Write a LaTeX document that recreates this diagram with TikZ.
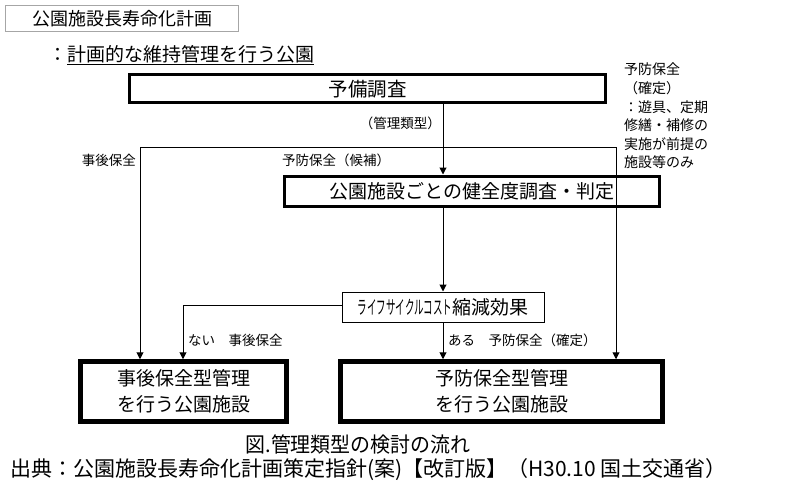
\documentclass[tikz,border=0pt]{standalone}
\usepackage{fontspec}
\setmainfont{Noto Sans CJK JP}
\newfontfamily\jpc[FakeStretch=0.95]{Noto Sans CJK JP}
\newfontfamily\jpk[FakeStretch=0.5]{Noto Sans CJK JP}
\usetikzlibrary{arrows.meta}
\begin{document}
\begin{tikzpicture}[x=1pt,y=-1pt,
  thickbox/.style={draw, line width=3pt, inner sep=0pt},
  bigbox/.style={draw, line width=4.5pt, inner sep=0pt},
  thinbox/.style={draw, line width=1pt, inner sep=0pt},
  lbl/.style={font=\fontsize{13.5}{15}\selectfont, inner sep=0pt},
  conn/.style={line width=1pt, -{Triangle[length=7pt,width=7pt]}},
  line/.style={line width=1pt}]
\useasboundingbox (0,0) rectangle (792,500);
% title
\node[draw=gray!70, line width=1pt, minimum width=233pt, minimum height=26pt, anchor=north west, font=\fontsize{18}{20}\selectfont] (title) at (5,5) {公園施設長寿命化計画};
\node[anchor=west, font=\fontsize{19}{21}\selectfont, inner sep=0pt] (sub) at (48,55) {：\underline{計画的な維持管理を行う公園}};
% boxes
\node[thickbox, minimum width=476pt, minimum height=28pt] (yobi) at (367.5,89) {\fontsize{19.5}{21}\selectfont 予備調査};
\node[thickbox, minimum width=375pt, minimum height=30pt] (kenzen) at (472,191) {\fontsize{19}{21}\selectfont 公園施設ごとの健全度調査・判定};
\node[thinbox, minimum width=202pt, minimum height=30pt] (lcc) at (443,307) {\fontsize{19}{21}\selectfont{\jpk ライフサイクルコスト}縮減効果};
\node[bigbox, minimum width=206pt, minimum height=60pt, align=center, font=\fontsize{19}{25.5}\selectfont] (jigo) at (183.5,391.5) {事後保全型管理\\を行う公園施設};
\node[bigbox, minimum width=322pt, minimum height=60pt, align=center, font=\fontsize{19}{25.5}\selectfont] (yobo) at (501.5,391.5) {予防保全型管理\\を行う公園施設};
% coordinates
\coordinate (tl) at (140,147);
\coordinate (tr) at (616,147);
\coordinate (lk) at (183,305);
% connectors
\draw[conn] (yobi.south -| 443,0) -- (kenzen.north -| 443,0);
\draw[line] (tl) -- (tr);
\draw[conn] (tl) -- (tl |- jigo.north);
\draw[conn] (tr) -- (tr |- yobo.north);
\draw[conn] (kenzen.south -| 443,0) -- (lcc.north);
\draw[conn] (lcc.west |- lk) -- (lk) -- (lk |- jigo.north);
\draw[conn] (lcc.south) -- (lcc.south |- yobo.north);
% labels
\node[lbl, anchor=east] (l1) at (441,123) {（管理類型）};
\node[lbl, anchor=east] (l2) at (136,160) {事後保全};
\node[lbl, anchor=west] (l3) at (282,160) {予防保全（候補）};
\node[lbl, anchor=west] (l4) at (188,340) {ない　事後保全};
\node[lbl, anchor=west] (l5) at (448,340) {ある　予防保全（確定）};
\node[lbl, anchor=north west, align=left, font=\fontsize{14}{18.6}\selectfont] (note) at (624,63) {予防保全\\（確定）\\：遊具、定期\\修繕・補修の\\実施が前提の\\施設等のみ};
% captions
\node[inner sep=0pt, font=\fontsize{21}{23}\selectfont\jpc] (cap1) at (358,445) {図.管理類型の検討の流れ};
\node[inner sep=0pt, anchor=west, font=\fontsize{21}{23}\selectfont] (cap2) at (10,470) {出典：公園施設長寿命化計画策定指針(案)【改訂版】（H30.10 国土交通省）};
\end{tikzpicture}
\end{document}
